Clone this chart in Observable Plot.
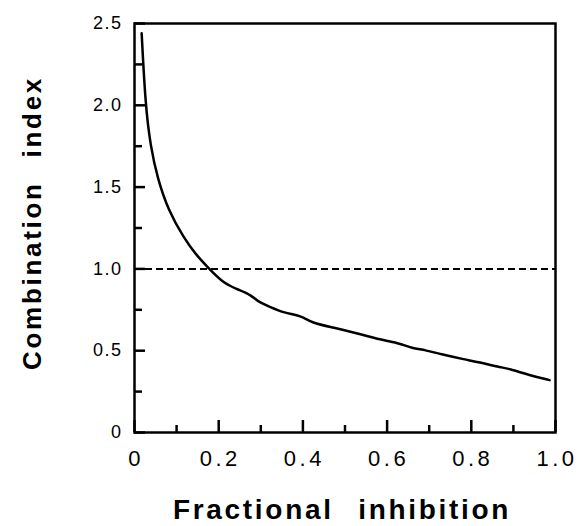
<!DOCTYPE html>
<html><head><meta charset="utf-8">
<script src="https://cdn.jsdelivr.net/npm/d3@7"></script>
<script src="https://cdn.jsdelivr.net/npm/@observablehq/plot@0.6"></script>
<style>body{margin:0;background:#fff}</style>
</head><body><div id="chart"></div>
<script>
const fa = [0.017,0.026,0.038,0.055,0.08,0.117,0.145,0.174,0.212,0.25,0.277,0.293,0.32,0.356,0.396,0.42,0.475,0.508,0.556,0.594,0.63,0.659,0.69,0.73,0.785,0.818,0.866,0.89,0.938,0.986];
const ci = [2.44,2.0,1.75,1.55,1.36,1.19,1.09,1.01,0.91,0.87,0.84,0.80,0.77,0.73,0.715,0.67,0.64,0.62,0.587,0.562,0.545,0.515,0.505,0.477,0.446,0.43,0.40,0.39,0.35,0.32];
const xMajor = [0,0.2,0.4,0.6,0.8,1.0];
const xMinor = [0.1,0.3,0.5,0.7,0.9];
const yMajor = [0,0.5,1.0,1.5,2.0,2.5];
const yMinor = [0.25,0.75,1.25,1.75,2.25];
const xLabels = ["0","0.2","0.4","0.6","0.8","1.0"];
const yLabels = ["0","0.5","1.0","1.5","2.0","2.5"];
const additivity = 1.0;
const data = fa.map((f,i)=>({fa:f, ci:ci[i]}));
const font = "'Liberation Sans', Arial, sans-serif";
const W = 577, H = 526, mL = 134, mR = 22, mT = 23, mB = 94;
const fw = W - mL - mR, fh = H - mT - mB;
const plot = Plot.plot({
  width: W, height: H,
  marginLeft: mL, marginRight: mR, marginTop: mT, marginBottom: mB,
  style: {fontFamily: font, color: "#000", background: "#fff"},
  x: {domain: [0, 1.0]},
  y: {domain: [0, 2.5]},
  marks: [
    Plot.tickX(xMajor, {x: d=>d, insetTop: fh - 12, strokeWidth: 2.5}),
    Plot.tickX(xMinor, {x: d=>d, insetTop: fh - 7, strokeWidth: 2.5}),
    Plot.axisX(xMajor, {tickSize: 0, tickPadding: 18, tickFormat: (d,i)=>xLabels[i], fontSize: 22, dx: 1.5, label: null}),
    Plot.tickY(yMajor, {y: d=>d, insetRight: fw - 11, strokeWidth: 2.5}),
    Plot.tickY(yMinor, {y: d=>d, insetRight: fw - 8, strokeWidth: 2.5}),
    Plot.axisY(yMajor, {tickSize: 0, tickPadding: 12, tickFormat: (d,i)=>yLabels[i], fontSize: 18, label: null}),
    Plot.ruleY([additivity], {strokeDasharray: "7,4", strokeWidth: 2}),
    Plot.line(data, {x: "fa", y: "ci", strokeWidth: 2.5, curve: "basis"}),
    Plot.frame({strokeWidth: 2.5}),
    Plot.text(["Combination index"], {frameAnchor: "left", textAnchor: "middle", lineAnchor: "middle", dx: -102, dy: -5, rotate: -90, fontSize: 26, fontWeight: "bold"}),
    Plot.text(["Fractional inhibition"], {frameAnchor: "bottom", textAnchor: "middle", lineAnchor: "middle", dx: -3, dy: 78, fontSize: 28, fontWeight: "bold"})
  ]
});
const svg = d3.select(plot);
svg.selectAll("g[aria-label='x-axis tick label'] text").style("letter-spacing", "3.5px");
svg.selectAll("g[aria-label='y-axis tick label'] text").style("letter-spacing", "1.5px");
svg.selectAll("g[aria-label='text'] text").style("letter-spacing", "2.7px").style("word-spacing", "14px");
document.getElementById("chart").append(plot);
</script></body></html>
